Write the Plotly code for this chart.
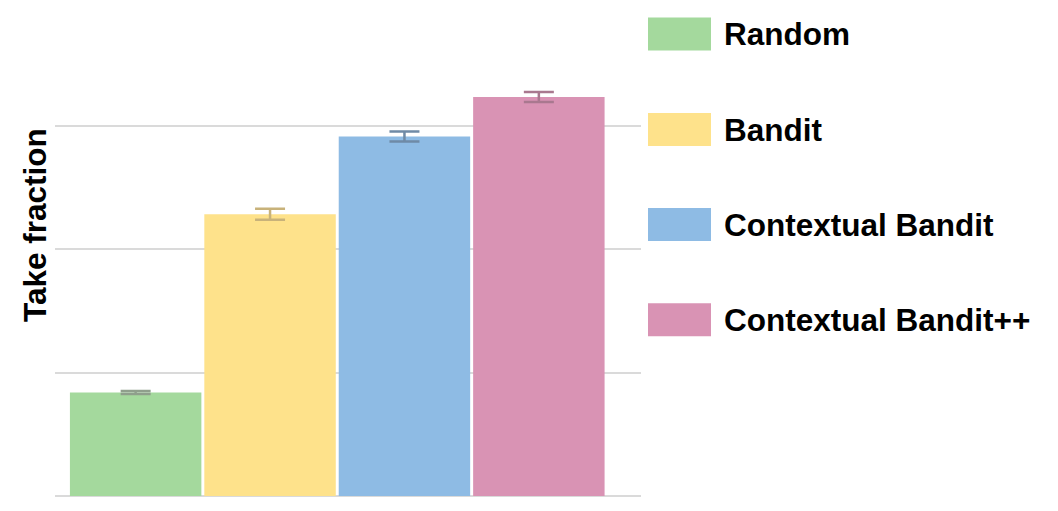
import plotly.graph_objects as go

methods = ["Random", "Bandit", "Contextual Bandit", "Contextual Bandit++"]
take_fraction = [0.084, 0.2285, 0.2915, 0.3235]
errors = [0.0012, 0.0045, 0.004, 0.004]
bar_colors = ["#a4d99d", "#fee28b", "#8ebbe4", "#d993b4"]
err_colors = ["#8f9f8c", "#c8b27a", "#6f8aa6", "#a9788f"]

# page body has an 8px default margin; geometry below is in window pixels
OFF = 8
WIN_W, WIN_H = 1058, 511
W, H = WIN_W - OFF, WIN_H - OFF
plot_left, plot_right, plot_top, plot_bottom = 55, 641, 52, 496
L = plot_left - OFF
R = WIN_W - plot_right
T = plot_top - OFF
B = WIN_H - plot_bottom
pw, ph = plot_right - plot_left, plot_bottom - plot_top

def px(x):
    return (x - plot_left) / pw

def py(y):
    return (plot_bottom - y) / ph

fig = go.Figure()
for m, v, e, c, ec in zip(methods, take_fraction, errors, bar_colors, err_colors):
    fig.add_trace(go.Bar(
        x=[m], y=[v], name=m, marker=dict(color=c, line=dict(width=0)),
        error_y=dict(type="data", array=[e], color=ec, thickness=2.5, width=15),
        showlegend=False,
    ))

# manual legend
leg_y = [34, 129.5, 224.5, 319.7]
for m, c, yc in zip(methods, bar_colors, leg_y):
    fig.add_shape(type="rect", xref="paper", yref="paper",
                  x0=px(648), x1=px(711), y0=py(yc - 16.5), y1=py(yc + 16.5),
                  fillcolor=c, line=dict(width=0))
    fig.add_annotation(xref="paper", yref="paper", x=px(722), y=py(yc),
                       xanchor="left", yanchor="middle", showarrow=False,
                       text="<b>" + m + "</b>",
                       font=dict(family="Liberation Sans, Arial", size=31.5, color="#000"))

fig.add_annotation(xref="paper", yref="paper", x=px(35), y=py(225),
                   xanchor="center", yanchor="middle", showarrow=False, textangle=-90,
                   text="<b>Take fraction</b>",
                   font=dict(family="Liberation Sans, Arial", size=31.5, color="#000"))

fig.update_layout(
    width=W, height=H,
    margin=dict(l=L, r=R, t=T, b=B, pad=0),
    paper_bgcolor="white", plot_bgcolor="white",
    barmode="overlay", bargap=0.022,
    xaxis=dict(type="category", range=[-0.6, 3.76], showticklabels=False,
               showgrid=False, zeroline=False, showline=False, ticks=""),
    yaxis=dict(range=[0, 0.36], dtick=0.1, showticklabels=False, ticks="",
               showgrid=True, gridcolor="#dadada", gridwidth=2,
               zeroline=True, zerolinecolor="#dadada", zerolinewidth=2,
               showline=False),
)

fig.write_html("out.html")
